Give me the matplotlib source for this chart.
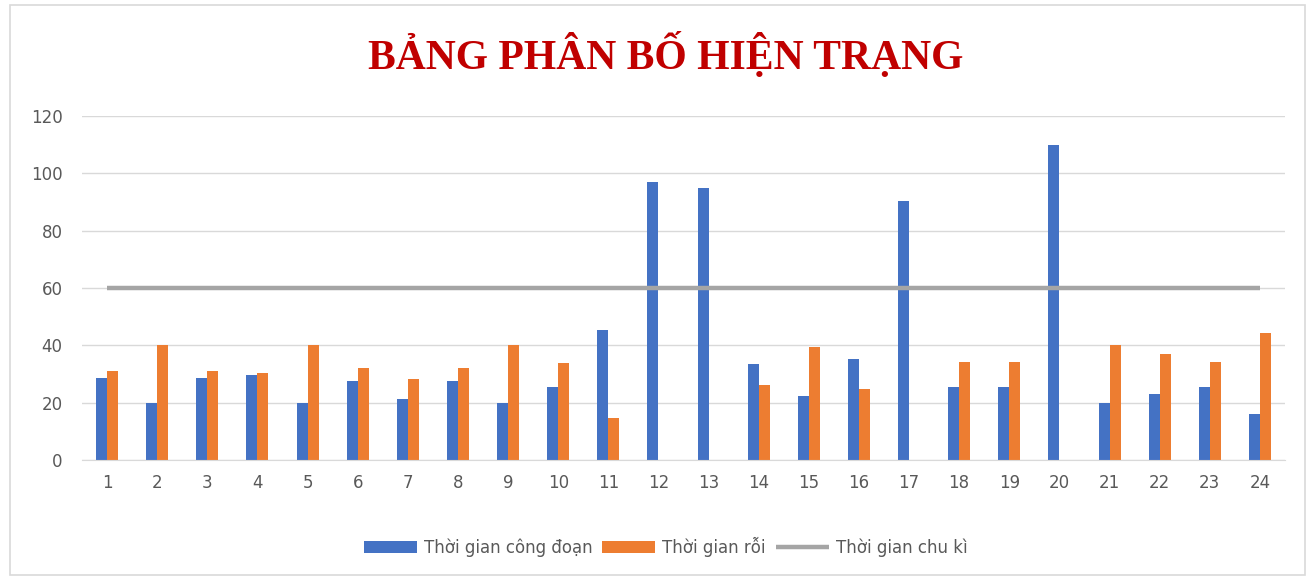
import numpy as np
import matplotlib.pyplot as plt
from matplotlib.patches import Rectangle

# values
stations = [str(i) for i in range(1, 25)]
process_time = [28.7, 20, 28.7, 29.6, 20, 27.6, 21.2, 27.4, 20, 25.5, 45.3, 97,
                95, 33.4, 22.3, 35.1, 90.5, 25.5, 25.5, 110, 20, 22.9, 25.5, 16]
idle_time = [31.1, 40, 30.9, 30.3, 40, 32, 28.2, 32.2, 40, 34, 14.8, 0,
             0, 26.2, 39.5, 24.9, 0, 34.2, 34.2, 0, 40, 36.9, 34.2, 44.2]
cycle_time = [60] * 24
yticks = [0, 20, 40, 60, 80, 100, 120]

BLUE, ORANGE, GREY = "#4472C4", "#ED7D31", "#A5A5A5"
TXT = "#595959"

fig = plt.figure(figsize=(13.15, 5.79), dpi=100)
fig.patches.append(Rectangle((10 / 1315, 4 / 579), 1295 / 1315, 570 / 579,
                             transform=fig.transFigure, fill=False,
                             edgecolor="#D9D9D9", lw=1.2))
ax = fig.add_axes([82 / 1315, 1 - 460 / 579, 1203 / 1315, 344 / 579])

x = np.arange(len(stations))
w = 0.22
b1 = ax.bar(x - w / 2, process_time, w, color=BLUE, zorder=2)
b2 = ax.bar(x + w / 2, idle_time, w, color=ORANGE, zorder=2)
ln, = ax.plot(x, cycle_time, color=GREY, lw=3.2, zorder=3, solid_capstyle="butt")

ax.set_xlim(-0.5, len(stations) - 0.5)
ax.set_ylim(0, 120)
ax.set_yticks(yticks)
ax.set_xticks(x)
ax.set_xticklabels(stations)
ax.grid(axis="y", color="#D9D9D9", lw=1, zorder=0)
for s in ax.spines.values():
    s.set_visible(False)
ax.spines["bottom"].set_visible(True)
ax.spines["bottom"].set_color("#D9D9D9")
ax.tick_params(length=0, labelsize=12, labelcolor=TXT, pad=10)
ax.tick_params(axis="y", pad=14)

fig.text(0.506, 1 - 55 / 579, "BẢNG PHÂN BỐ HIỆN TRẠNG", ha="center", va="center",
         fontsize=30, fontweight="bold", color="#C00000", family="Liberation Serif")

fig.legend([b1, b2, ln], ["Thời gian công đoạn", "Thời gian rỗi", "Thời gian chu kì"],
           loc="center", bbox_to_anchor=(0.506, 1 - 547 / 579), ncol=3, frameon=False,
           handlelength=3.2, handletextpad=0.4, columnspacing=0.6,
           labelcolor=TXT, prop={"family": "DejaVu Sans", "size": 12})

fig.savefig("out.png", dpi=100)
